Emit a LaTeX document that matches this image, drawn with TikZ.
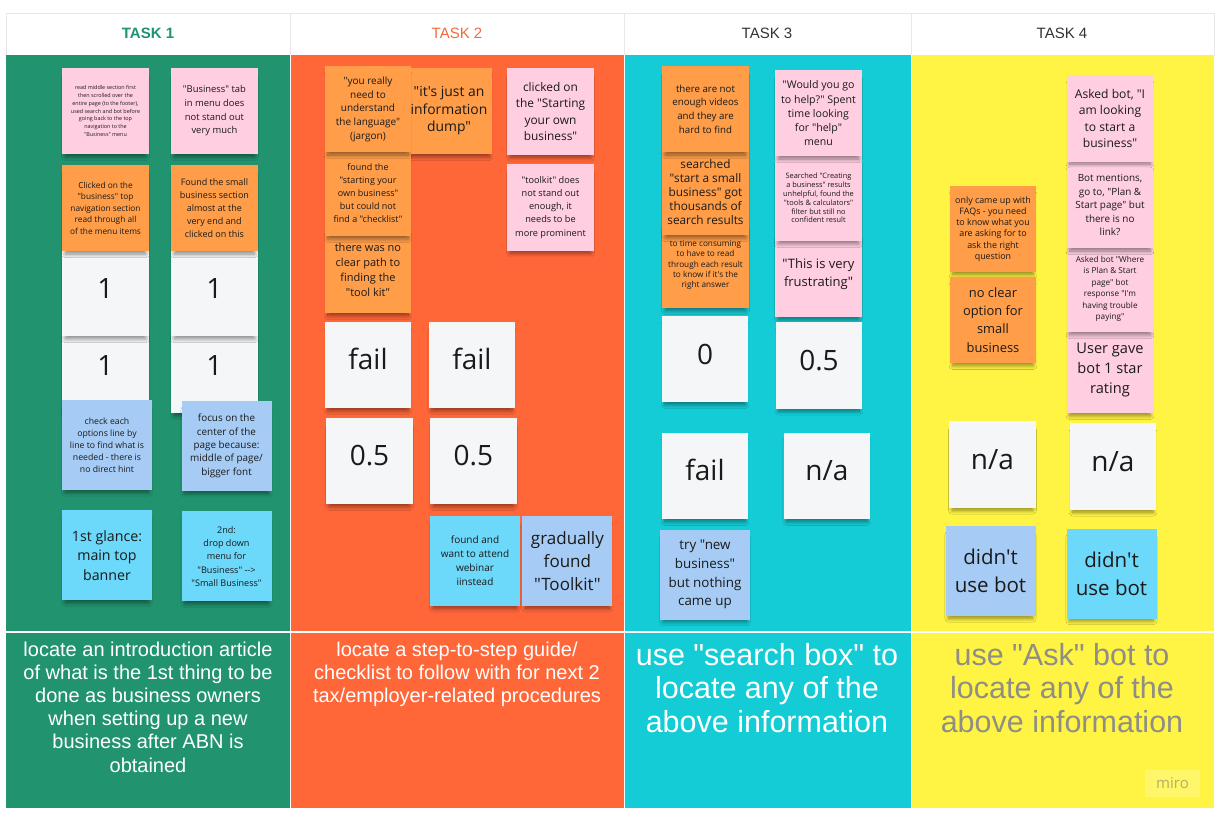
\documentclass[tikz,border=0pt]{standalone}
\usepackage{fontspec}
\setmainfont{Open Sans}[Ligatures=TeXOff]
\newfontfamily\labelfont{Liberation Sans}[Ligatures=TeXOff]
\usepackage{tikz}
\usetikzlibrary{positioning, shadows.blur}
\definecolor{colgreen}{HTML}{21936F}
\definecolor{colorange}{HTML}{FF6638}
\definecolor{colcyan}{HTML}{14CCD6}
\definecolor{colyellow}{HTML}{FFF443}
\definecolor{notepink}{HTML}{FFCEE0}
\definecolor{noteorange}{HTML}{FF9D48}
\definecolor{noteblue}{HTML}{A6CCF5}
\definecolor{notecyan}{HTML}{6CD8FA}
\definecolor{notewhite}{HTML}{F5F6F8}
\definecolor{inkdark}{HTML}{1A1A1A}
\definecolor{headgrey}{HTML}{E8E8E8}
\definecolor{taskgreen}{HTML}{1E9373}
\definecolor{taskorange}{HTML}{F26B3A}
\definecolor{taskgrey}{HTML}{333333}
\definecolor{askgrey}{HTML}{8E8E86}
\definecolor{miropatch}{HTML}{FFF66A}
\definecolor{mirotext}{HTML}{B4AE66}
\tikzstyle{sticky} = [rectangle, minimum size=86.5pt, inner sep=1pt, align=center, text=inkdark, blur shadow={shadow xshift=0pt, shadow yshift=-6pt, shadow opacity=45, shadow blur radius=4pt, shadow scale=0.93, shadow blur steps=14}]
\tikzstyle{pinknote} = [sticky, fill=notepink]
\tikzstyle{orangenote} = [sticky, fill=noteorange]
\tikzstyle{bluenote} = [sticky, minimum size=90pt, fill=noteblue]
\tikzstyle{cyannote} = [sticky, minimum size=90pt, fill=notecyan]
\tikzstyle{scorenote} = [sticky, fill=notewhite, font=\fontsize{28pt}{32pt}\selectfont, text height=21pt, text depth=11pt]
\tikzset{fs/.style 2 args={font=\fontsize{#1pt}{#2pt}\selectfont}}
\tikzset{taskhead/.style={font=\labelfont\fontsize{15pt}{18pt}\selectfont}}
\tikzstyle{tasktext} = [anchor=north, inner sep=0pt, align=center, text=white]

\begin{document}
\begin{tikzpicture}[x=1pt, y=-1pt]
  \useasboundingbox[fill=white] (0,0) rectangle (1221,818);
  % header row
  \draw[fill=white, draw=headgrey] (6,13) rectangle (1214,55);
  \foreach \xx in {290,624,911} \draw[headgrey] (\xx,13) -- (\xx,55);
  \node[text=taskgreen, font=\labelfont\bfseries\fontsize{15pt}{18pt}\selectfont] (h1) at (148,33) {TASK 1};
  \node[taskhead, text=taskorange] (h2) at (457,33) {TASK 2};
  \node[taskhead, text=taskgrey] (h3) at (767,33) {TASK 3};
  \node[taskhead, text=taskgrey] (h4) at (1062,33) {TASK 4};

  % columns
  \fill[colgreen] (6,55) rectangle (290,808);
  \fill[colorange] (290,55) rectangle (624,808);
  \fill[colcyan] (624,55) rectangle (911,808);
  \fill[colyellow] (911,55) rectangle (1214,808);
  \draw[white, line width=1.5pt] (6,632) -- (1214,632);
  \foreach \xx in {290,624,911} \draw[white, line width=1pt] (\xx,55) -- (\xx,808);

  % task descriptions
  \node[tasktext, font=\labelfont\fontsize{20pt}{23.2pt}\selectfont] (d1) at (148,641.5) {locate an introduction article\\of what is the 1st thing to be\\done as business owners\\when setting up a new\\business after ABN is\\obtained};
  \node[tasktext, font=\labelfont\fontsize{20pt}{23.2pt}\selectfont] (d2) at (457,641.5) {locate a step-to-step guide/\\checklist to follow with for next 2\\tax/employer-related procedures};
  \node[tasktext, font=\labelfont\fontsize{30.5pt}{33.5pt}\selectfont] (d3) at (767,643) {use "search box" to\\locate any of the\\above information};
  \node[tasktext, text=askgrey, font=\labelfont\fontsize{30.5pt}{33.5pt}\selectfont] (d4) at (1062,643) {use "Ask" bot to\\locate any of the\\above information};
  \node[fill=miropatch, minimum width=55pt, minimum height=27pt, text=mirotext, font=\fontsize{15pt}{18pt}\selectfont] (logo) at (1172.5,783.5) {miro};

  % task 1
  \node[pinknote, fs={5.4}{7.9}] (t1p1) at (105.5,111) {read middle section first\\then scrolled over the\\entire page (to the footer),\\used search and bot before\\going back to the top\\navigation to the\\"Business" menu};
  \node[pinknote, fs={9.4}{13.7}, right=22pt of t1p1] (t1p2) {"Business" tab\\in menu does\\not stand out\\very much};
  \node[scorenote] (t1w3) at (105.5,370) {1};
  \node[scorenote, right=22pt of t1w3] (t1w4) {1};
  \node[scorenote, above=-10pt of t1w3] (t1w1) {1};
  \node[scorenote, above=-10pt of t1w4] (t1w2) {1};
  \node[orangenote, fs={8.3}{11.5}, above=-2pt of t1w1] (t1o1) {Clicked on the\\"business" top\\navigation section\\read through all\\of the menu items};
  \node[orangenote, fs={9}{12.9}, above=-2pt of t1w2] (t1o2) {Found the small\\business section\\almost at the\\very end and\\clicked on this};
  \node[bluenote, fs={8.7}{11.9}] (t1b1) at (107,445) {check each\\options line by\\line to find what is\\needed - there is\\no direct hint};
  \node[bluenote, fs={9.9}{13.4}] (t1b2) at (226.5,446) {focus on the\\center of the\\page because:\\middle of page/\\bigger font};
  \node[cyannote, fs={14.2}{19.7}, below=20pt of t1b1] (t1c1) {1st glance:\\main top\\banner};
  \node[cyannote, fs={9.1}{13.4}, below=20pt of t1b2] (t1c2) {2nd:\\drop down\\menu for\\"Business" -->\\"Small Business"};

  % task 2
  \node[orangenote, fs={13.9}{17.5}] (t2o2) at (449,111) {"it's just an\\information\\dump"};
  \node[orangenote, fs={11}{15}] (t2o4) at (368,270) {there was no\\clear path to\\finding the\\"tool kit"};
  \node[orangenote, fs={9}{12.9}, above=-10pt of t2o4] (t2o3) {found the\\"starting your\\own business"\\but could not\\find a "checklist"};
  \node[orangenote, fs={10}{13.7}, above=-3pt of t2o3] (t2o1) {"you really\\need to\\understand\\the language"\\(jargon)};
  \node[pinknote, fs={11.9}{16.4}] (t2p1) at (550.5,111.5) {clicked on\\the "Starting\\your own\\business"};
  \node[pinknote, fs={9.2}{13.2}, below=9pt of t2p1] (t2p2) {"toolkit" does\\not stand out\\enough, it\\needs to be\\more prominent};
  \node[scorenote] (t2w1) at (368,365) {fail};
  \node[scorenote, right=17pt of t2w1] (t2w2) {fail};
  \node[scorenote, below=9pt of t2w1, xshift=1.5pt] (t2w3) {0.5};
  \node[scorenote, right=17pt of t2w3] (t2w4) {0.5};
  \node[cyannote, fs={10}{14}] (t2c1) at (475,561) {found and\\want to attend\\webinar\\iinstead};
  \node[bluenote, fs={17}{23}, right=2pt of t2c1] (t2b1) {gradually\\found\\"Toolkit"};

  % task 3
  \node[orangenote, fs={8.2}{10.3}] (t3o3) at (705.5,265) {to time consuming\\to have to read\\through each result\\to know if it's the\\right answer};
  \node[orangenote, fs={11.8}{14}, above=-14pt of t3o3] (t3o2) {searched\\"start a small\\business" got\\thousands of\\search results};
  \node[orangenote, fs={9.7}{13.7}, above=-4pt of t3o2] (t3o1) {there are not\\enough videos\\and they are\\hard to find};
  \node[pinknote, fs={13}{18.3}] (t3p3) at (818.5,274) {"This is very\\frustrating"};
  \node[pinknote, fs={7.4}{8.8}, above=-11pt of t3p3] (t3p2) {Searched "Creating\\a business" results\\unhelpful, found the\\"tools \& calculators"\\filter but still no\\confident result};
  \node[pinknote, fs={10.6}{14.1}, above=-2pt of t3p2] (t3p1) {"Would you go\\to help?" Spent\\time looking\\for "help"\\menu};
  \node[scorenote] (t3w1) at (705,359) {0};
  \node[scorenote] (t3w2) at (819,365.5) {0.5};
  \node[scorenote, below=30pt of t3w1] (t3w3) {fail};
  \node[scorenote, right=35pt of t3w3] (t3w4) {n/a};
  \node[bluenote, fs={13.4}{18.8}, below=10pt of t3w3] (t3b1) {try "new\\business"\\but nothing\\came up};

  % task 4
  \node[orangenote, fs={8.9}{11.2}] (t4o1) at (993,229) {only came up with\\FAQs - you need\\to know what you\\are asking for to\\ask the right\\question};
  \node[orangenote, fs={12.9}{18.3}, below=4pt of t4o1] (t4o2) {no clear\\option for\\small\\business};
  \node[pinknote, fs={14.6}{20}] (t4p4) at (1110,370) {User gave\\bot 1 star\\rating};
  \node[pinknote, fs={8.2}{11.5}, above=-6pt of t4p4] (t4p3) {Asked bot "Where\\is Plan \& Start\\page" bot\\response "I'm\\having trouble\\paying"};
  \node[pinknote, fs={9.9}{13.6}, above=-3pt of t4p3] (t4p2) {Bot mentions,\\go to, "Plan \&\\Start page" but\\there is no\\link?};
  \node[pinknote, fs={12.1}{16.4}, above=0pt of t4p2] (t4p1) {Asked bot, "I\\am looking\\to start a\\business"};
  \node[scorenote] (t4w1) at (992.5,464.5) {n/a};
  \node[scorenote] (t4w2) at (1113,466.5) {n/a};
  \node[bluenote, fs={20.5}{28}] (t4b1) at (990.5,571) {didn't\\use bot};
  \node[cyannote, fs={20.5}{28}] (t4c1) at (1111.5,573.5) {didn't\\use bot};
\end{tikzpicture}
\end{document}
